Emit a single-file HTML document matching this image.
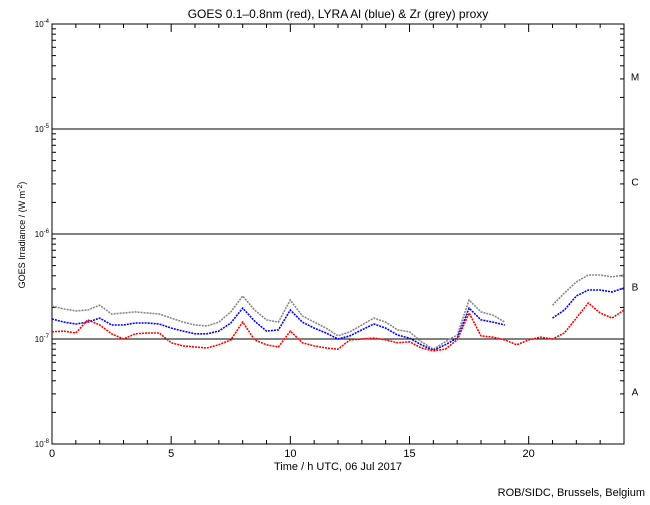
<!DOCTYPE html>
<html><head><meta charset="utf-8"><style>
body{margin:0;background:#fff;width:650px;height:500px;overflow:hidden}
svg text{font-family:"Liberation Sans",sans-serif;fill:#000}
</style></head><body>
<svg id="c" width="650" height="500" xmlns="http://www.w3.org/2000/svg">
<text x="338" y="18" font-size="12" text-anchor="middle">GOES 0.1–0.8nm (red), LYRA Al (blue) &amp; Zr (grey) proxy</text>
<text transform="translate(25,235) rotate(-90)" font-size="9" text-anchor="middle">GOES Irradiance / (W m<tspan dy="-3" font-size="7">-2</tspan><tspan dy="3">)</tspan></text>
<text x="338" y="470" font-size="11" text-anchor="middle">Time / h UTC, 06 Jul 2017</text>
<text x="645" y="496" font-size="11" text-anchor="end">ROB/SIDC, Brussels, Belgium</text>
<g id="axes"></g>
<g id="series"></g>
</svg>
<script>
const hours=[0,0.5,1,1.5,2,2.5,3,3.5,4,4.5,5,5.5,6,6.5,7,7.5,8,8.5,9,9.5,10,10.5,11,11.5,12,12.5,13,13.5,14,14.5,15,15.5,16,16.5,17,17.5,18,18.5,19,19.5,20,20.5,21,21.5,22,22.5,23,23.5,24];
// values in units of 1e-7 W/m^2
const goesRed=[1.17,1.19,1.14,1.52,1.36,1.12,1.0,1.12,1.14,1.14,0.92,0.86,0.84,0.82,0.88,0.98,1.45,0.98,0.88,0.84,1.19,0.92,0.86,0.82,0.80,0.98,1.0,1.02,0.98,0.92,0.94,0.82,0.77,0.80,0.98,1.77,1.07,1.04,0.98,0.88,0.98,1.04,1.0,1.14,1.58,2.20,1.77,1.58,1.89];
const lyraAl=[1.55,1.45,1.39,1.45,1.58,1.36,1.36,1.42,1.42,1.39,1.27,1.19,1.12,1.12,1.19,1.42,1.97,1.48,1.19,1.22,1.89,1.45,1.27,1.14,1.0,1.07,1.22,1.39,1.27,1.09,1.02,0.88,0.78,0.88,1.02,1.97,1.52,1.45,1.36,null,null,null,1.58,1.89,2.57,2.93,2.93,2.80,3.06];
const lyraZr=[2.06,1.93,1.85,1.89,2.10,1.73,1.77,1.81,1.77,1.73,1.58,1.45,1.36,1.33,1.45,1.81,2.57,1.89,1.52,1.45,2.35,1.66,1.45,1.27,1.07,1.17,1.36,1.58,1.45,1.22,1.17,0.94,0.80,0.94,1.09,2.35,1.81,1.69,1.45,null,null,null,2.10,2.74,3.49,4.07,4.07,3.9,4.07];
const xTicks=[0,5,10,15,20];
const yExps=[-4,-5,-6,-7,-8];
const classes=["M","C","B","A"];

const L=52,R=624,T=24,B=444;
const xs=h=>L+(R-L)*h/24;
const ly=lg=>339-(lg+7)*105;
const ys=v=>ly(Math.log10(v*1e-7));
const NS="http://www.w3.org/2000/svg";
const ax=document.getElementById('axes'), sg=document.getElementById('series');
function mk(tag,attrs,parent){const e=document.createElementNS(NS,tag);for(const k in attrs)e.setAttribute(k,attrs[k]);parent.appendChild(e);return e;}

const frame=mk('rect',{x:L,y:T,width:R-L,height:B-T,fill:'none',stroke:'#000','stroke-width':1},ax);


for(let h=0;h<=24;h++){
  const len=(h%5===0)?8:4, x=xs(h);
  mk('line',{x1:x,x2:x,y1:B,y2:B-len,stroke:'#000'},ax);
  mk('line',{x1:x,x2:x,y1:T,y2:T+len,stroke:'#000'},ax);
}
xTicks.forEach(t=>{
  const e=mk('text',{x:xs(t),y:B+13,'font-size':11,'text-anchor':'middle'},ax);
  e.textContent=String(t);
  
  
});
yExps.forEach(p=>{
  const y=ly(p);
  if(p<-4&&p>-8){
    const l=mk('line',{x1:L,x2:R,y1:y,y2:y,stroke:'#000','stroke-width':1},ax);
    
    
  }
  mk('line',{x1:L,x2:L+8,y1:y,y2:y,stroke:'#000'},ax);
  mk('line',{x1:R,x2:R-8,y1:y,y2:y,stroke:'#000'},ax);
  if(p>-8){for(let m=2;m<=9;m++){const yy=ly(p-1+Math.log10(m));
    mk('line',{x1:L,x2:L+4,y1:yy,y2:yy,stroke:'#000'},ax);
    mk('line',{x1:R,x2:R-4,y1:yy,y2:yy,stroke:'#000'},ax);}}
  const e=mk('text',{x:L-3,y:y+3,'font-size':8,'text-anchor':'end'},ax);
  
  
  const t1=mk('tspan',{},e); t1.textContent='10';
  const t2=mk('tspan',{dy:-4,'font-size':6},e); t2.textContent=String(p);
});
classes.forEach((c,i)=>{
  const e=mk('text',{x:635,y:ly(-4.5-i)+4,'font-size':10,'text-anchor':'middle'},ax);
  e.textContent=c;
  
  
});
function draw(vals,color,name){
  let segs=[],cur=[];
  vals.forEach((v,i)=>{ if(v==null){if(cur.length)segs.push(cur);cur=[];} else cur.push(xs(hours[i]).toFixed(1)+','+ys(v).toFixed(1)); });
  if(cur.length)segs.push(cur);
  segs.forEach(s=>{
    const p=mk('polyline',{points:s.join(' '),fill:'none',stroke:color,'stroke-width':1.6,'stroke-dasharray':'2 1'},sg);
    
    
  });
}
draw(lyraZr,'#888','zr-proxy-series');
draw(lyraAl,'#00f','al-proxy-series');
draw(goesRed,'#f00','goes-series');
</script>
</body></html>
